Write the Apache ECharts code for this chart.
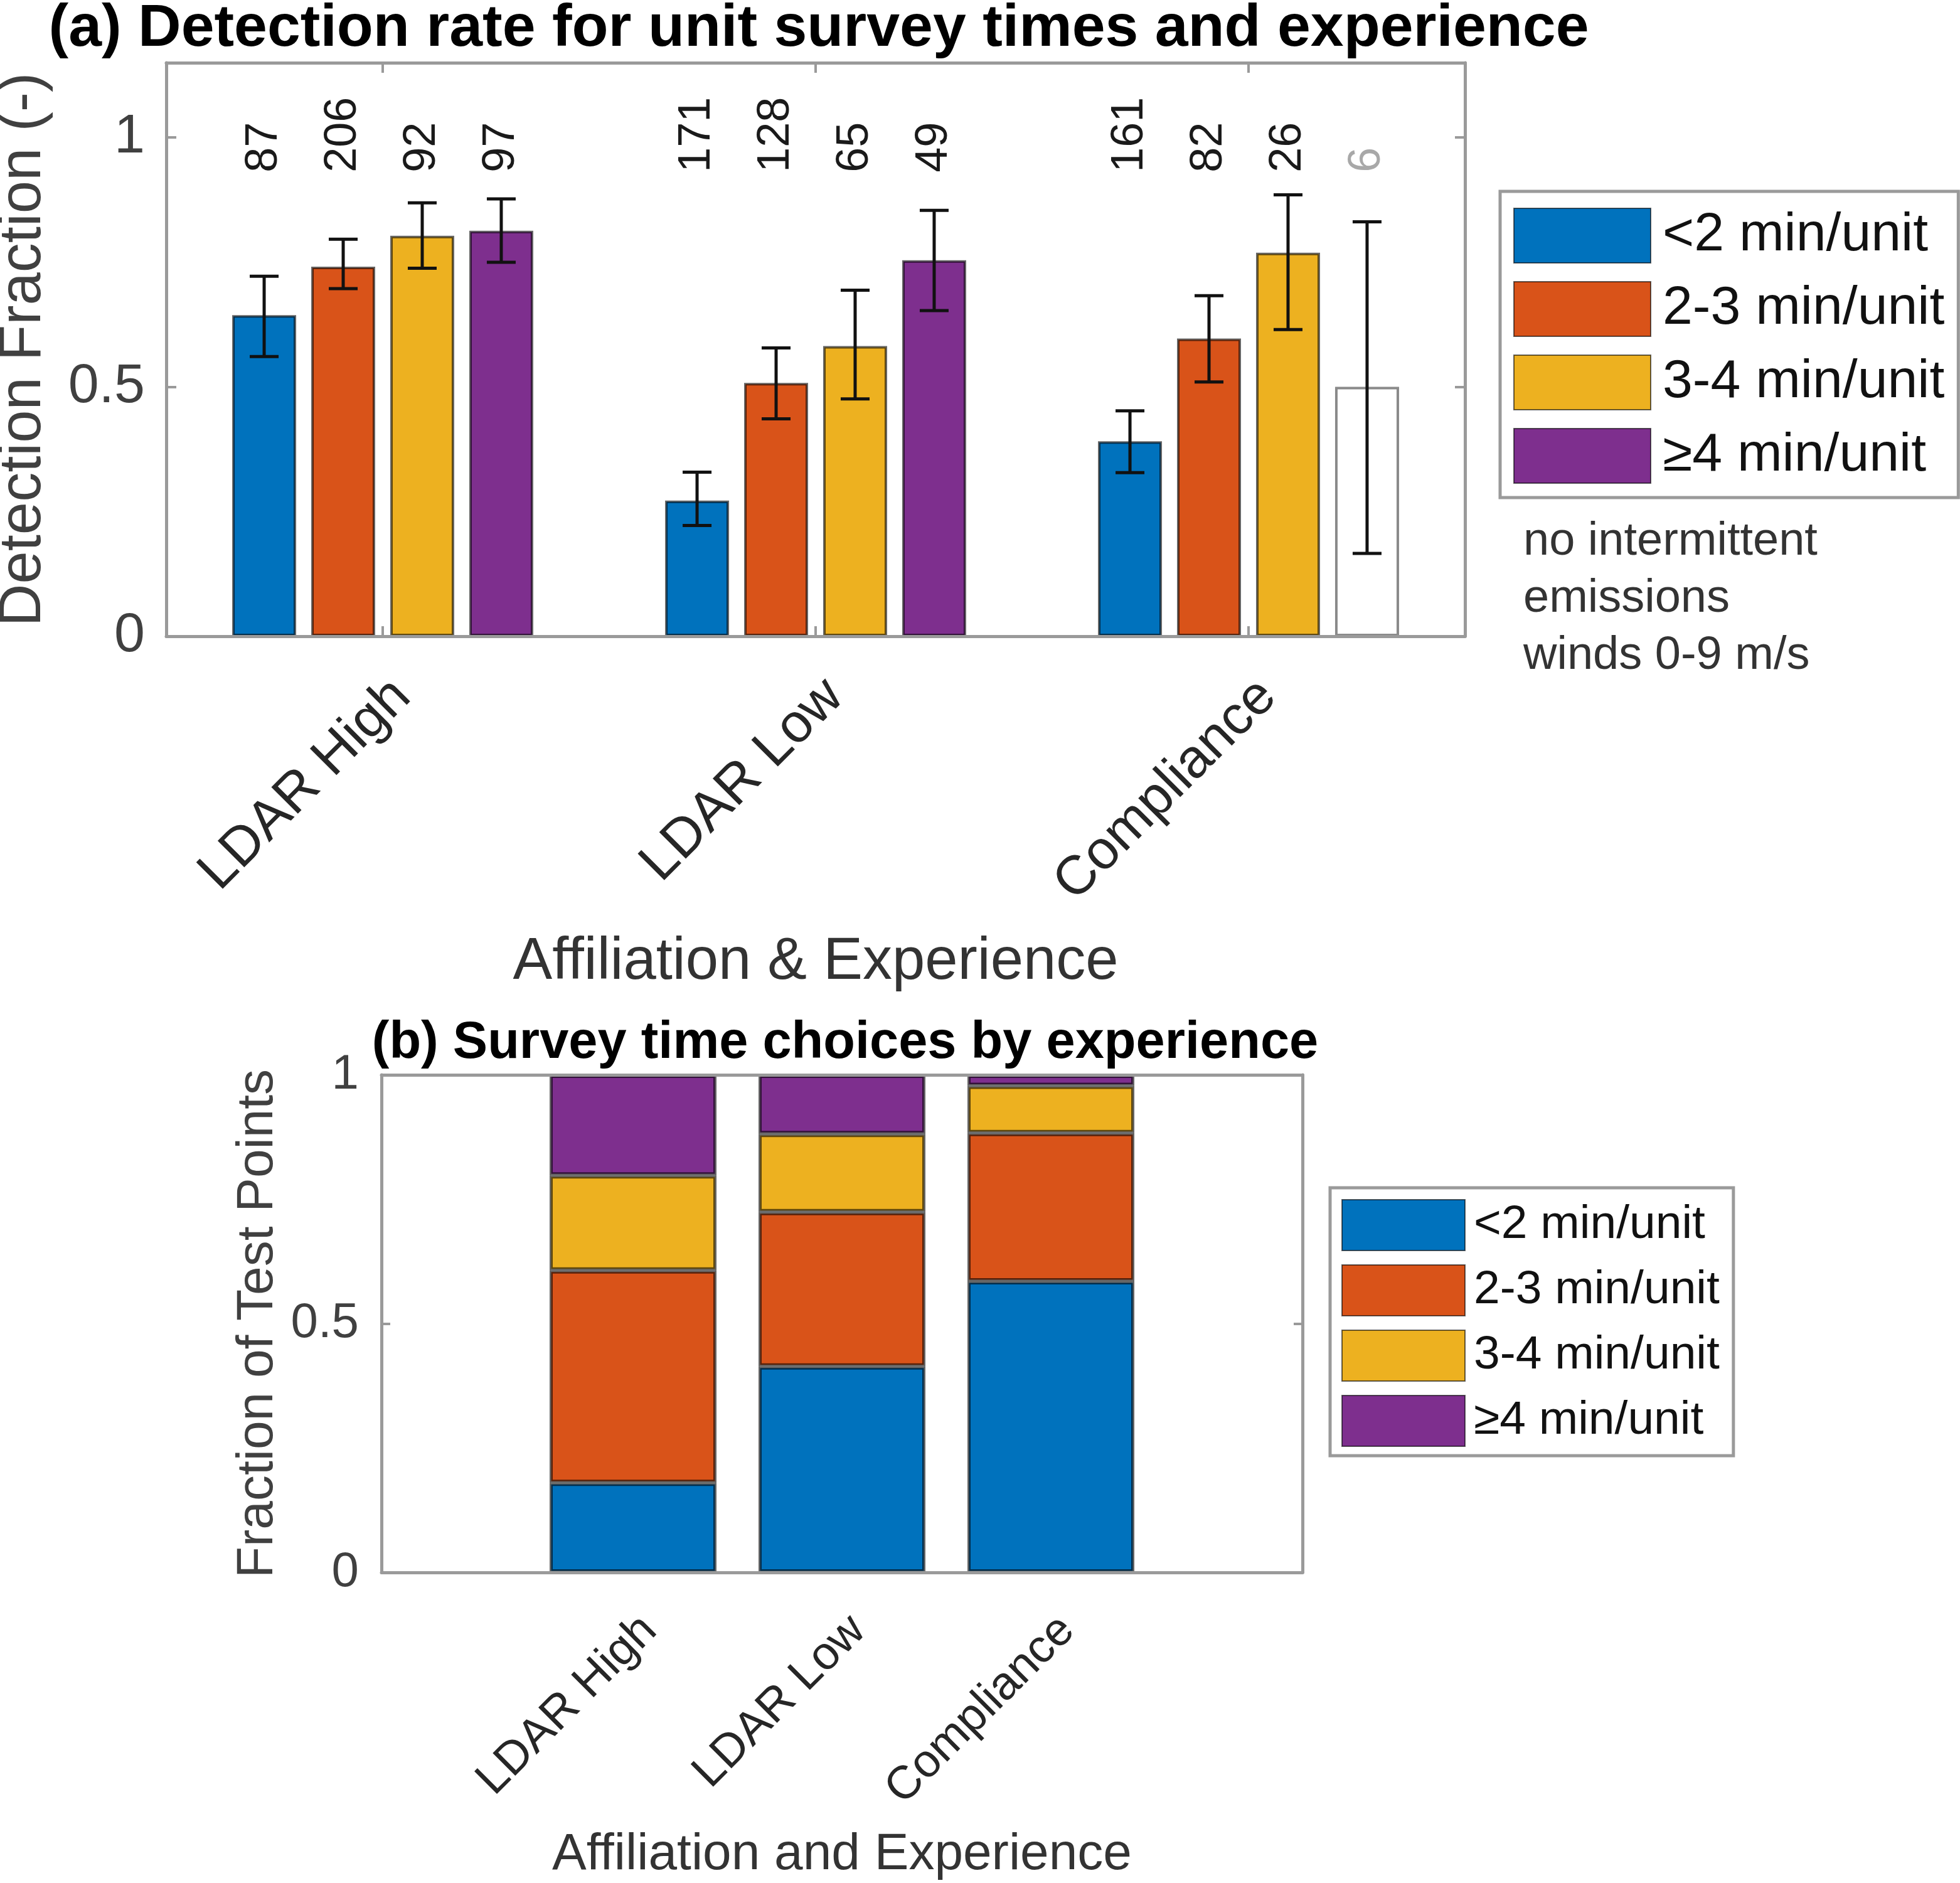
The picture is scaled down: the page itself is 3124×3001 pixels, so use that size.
<!DOCTYPE html>
<html>
<head>
<meta charset="utf-8">
<script src="https://cdn.jsdelivr.net/npm/echarts@6/dist/echarts.min.js"></script>
<style>
  html, body { margin: 0; padding: 0; background: #fff; }
  #chart { width: 3124px; height: 3001px; }
</style>
</head>
<body>
<div id="chart"></div>
<script>
// ---------------- data ----------------
const categories = ['LDAR High', 'LDAR Low', 'Compliance'];
const timeBins = ['<2 min/unit', '2-3 min/unit', '3-4 min/unit', '\u22654 min/unit'];
const yTickValues = [0, 0.5, 1];

// (a) detection fraction per survey-time bin (per category)
const rateLt2  = [0.644, 0.272, 0.391];
const rate2to3 = [0.741, 0.508, 0.597];
const rate3to4 = [0.803, 0.582, 0.769];
const rateGe4  = [0.813, 0.754, 0.500];

// (a) error bar bounds
const ciLowLt2   = [0.561, 0.222, 0.328];
const ciHighLt2  = [0.722, 0.329, 0.452];
const ciLow2to3  = [0.697, 0.436, 0.510];
const ciHigh2to3 = [0.796, 0.578, 0.683];
const ciLow3to4  = [0.738, 0.476, 0.615];
const ciHigh3to4 = [0.869, 0.694, 0.885];
const ciLowGe4   = [0.750, 0.653, 0.166];
const ciHighGe4  = [0.877, 0.854, 0.831];

// (a) number of test points
const countLt2  = [87, 171, 161];
const count2to3 = [206, 128, 82];
const count3to4 = [92, 65, 26];
const countGe4  = [97, 49, 6];

// (b) fraction of test points per bin
const shareLt2  = [0.180, 0.414, 0.585];
const share2to3 = [0.427, 0.310, 0.298];
const share3to4 = [0.191, 0.157, 0.095];
const shareGe4  = [0.202, 0.119, 0.022];

const noteLines = ['no intermittent', 'emissions', 'winds 0-9 m/s'];

// ---------------- styling ----------------
const FONT = "'Liberation Sans', Arial, Helvetica, sans-serif";
const colors = ['#0072BD', '#D95319', '#EDB120', '#7E2F8E'];
const AXIS_COLOR = '#9a9a9a';
const AXIS_W = 5;
const EDGE = 'rgba(0,0,0,0.6)';
const BAR_W = 102;
const BAR_GAP = 0.235;
const CAP = 23;
const COUNT_LABEL_Y = 0.93;
const LOW_N = 10;

const rates = [rateLt2, rate2to3, rate3to4, rateGe4];
const ciLow = [ciLowLt2, ciLow2to3, ciLow3to4, ciLowGe4];
const ciHigh = [ciHighLt2, ciHigh2to3, ciHigh3to4, ciHighGe4];
const counts = [countLt2, count2to3, count3to4, countGe4];
const shares = [shareLt2, share2to3, share3to4, shareGe4];

const chart = echarts.init(document.getElementById('chart'), null, { renderer: 'canvas' });

const lineStyle = { color: AXIS_COLOR, width: AXIS_W };
const tickStyle = { color: AXIS_COLOR, width: 4 };

const series = [];

// (a) grouped bars
rates.forEach((arr, b) => {
  series.push({
    type: 'bar', name: timeBins[b], xAxisIndex: 0, yAxisIndex: 0,
    barWidth: BAR_W, barGap: (BAR_GAP * 100) + '%',
    itemStyle: { color: colors[b], borderColor: EDGE, borderWidth: 4 },
    data: arr.map((v, c) => counts[b][c] < LOW_N
      ? { value: v, itemStyle: { color: '#ffffff', borderColor: '#8a8a8a', borderWidth: 4 } }
      : v),
    z: 2
  });
});

// (a) error bars and counts
const ciItems = [];
timeBins.forEach((bin, b) => categories.forEach((cat, c) => {
  ciItems.push([c, b, ciLow[b][c], ciHigh[b][c], counts[b][c]]);
}));
series.push({
  type: 'custom', xAxisIndex: 0, yAxisIndex: 0, z: 6,
  dimensions: ['cat', 'bin', 'lo', 'hi', 'n'],
  encode: { x: 0, y: [2, 3] },
  data: ciItems,
  renderItem: function (params, api) {
    const c = api.value(0), b = api.value(1);
    const off = (b - (timeBins.length - 1) / 2) * BAR_W * (1 + BAR_GAP);
    const lo = api.coord([c, api.value(2)]);
    const hi = api.coord([c, api.value(3)]);
    const x = lo[0] + off;
    const yl = api.coord([c, COUNT_LABEL_Y])[1];
    const n = api.value(4);
    const st = { stroke: '#111', lineWidth: 5 };
    return {
      type: 'group',
      children: [
        { type: 'line', shape: { x1: x, y1: lo[1], x2: x, y2: hi[1] }, style: st },
        { type: 'line', shape: { x1: x - CAP, y1: lo[1], x2: x + CAP, y2: lo[1] }, style: st },
        { type: 'line', shape: { x1: x - CAP, y1: hi[1], x2: x + CAP, y2: hi[1] }, style: st },
        { type: 'text', x: x, y: yl, rotation: Math.PI / 2,
          style: { text: String(n), fontSize: 72, fontFamily: FONT,
                   fill: n < LOW_N ? '#a8a8a8' : '#1a1a1a', align: 'left', verticalAlign: 'middle' } }
      ]
    };
  }
});

// (b) stacked bars (on the category axis of the inner grid)
shares.forEach((arr, b) => {
  series.push({
    type: 'bar', name: timeBins[b], xAxisIndex: 4, yAxisIndex: 4,
    stack: 'share', barWidth: 266,
    itemStyle: { color: colors[b], borderColor: EDGE, borderWidth: 5 },
    data: arr,
    z: 2
  });
});

const tickFormatter = function (v) {
  return yTickValues.some(t => Math.abs(t - v) < 1e-6) ? String(v) : '';
};

const gridBase = { containLabel: false, outerBoundsMode: 'none' };

const option = {
  backgroundColor: '#ffffff',
  animation: false,
  textStyle: { fontFamily: FONT },
  title: [
    { text: '(a) Detection rate for unit survey times and experience', left: 1300, top: -6,
      textAlign: 'center',
      textStyle: { fontSize: 95, fontWeight: 'bold', color: '#000', fontFamily: FONT } },
    { text: '(b) Survey time choices by experience', left: 1342, top: 1617,
      textAlign: 'center',
      textStyle: { fontSize: 83, fontWeight: 'bold', color: '#000', fontFamily: FONT } }
  ],
  grid: [
    Object.assign({ left: 265, top: 100, width: 2070, height: 914 }, gridBase),
    Object.assign({ left: 608, top: 1713, width: 1468, height: 793 }, gridBase),
    Object.assign({ left: 842.5, top: 1713, width: 999, height: 793 }, gridBase)
  ],
  legend: [
    { data: timeBins, orient: 'vertical', left: 2391, top: 305, icon: 'rect',
      itemWidth: 218, itemHeight: 87, itemGap: 28, padding: [26, 22, 22, 21],
      borderColor: AXIS_COLOR, borderWidth: 5, selectedMode: false, backgroundColor: '#fff',
      textStyle: { fontSize: 86, color: '#111', fontFamily: FONT, padding: [0, 0, 0, 14] } },
    { data: timeBins, orient: 'vertical', left: 2120, top: 1893, icon: 'rect',
      itemWidth: 196, itemHeight: 81, itemGap: 21, padding: [18, 22, 14, 18],
      borderColor: AXIS_COLOR, borderWidth: 5, selectedMode: false, backgroundColor: '#fff',
      textStyle: { fontSize: 75, color: '#111', fontFamily: FONT, padding: [0, 0, 0, 9] } }
  ],
  xAxis: [
    // (a) bottom
    { type: 'category', gridIndex: 0, data: categories, z: 10,
      axisLine: { show: true, onZero: false, lineStyle: lineStyle },
      axisTick: { show: true, inside: true, alignWithLabel: true, length: 16, lineStyle: tickStyle },
      axisLabel: { rotate: 45, fontSize: 87, color: '#262626', margin: 52,
                   align: 'right', verticalAlign: 'top', fontFamily: FONT },
      name: 'Affiliation & Experience', nameLocation: 'middle', nameGap: 473,
      nameTextStyle: { fontSize: 94, color: '#333', fontFamily: FONT } },
    // (a) top mirror
    { type: 'category', gridIndex: 0, data: categories, position: 'top', z: 10,
      axisLine: { show: true, onZero: false, lineStyle: lineStyle },
      axisTick: { show: true, inside: true, alignWithLabel: true, length: 16, lineStyle: tickStyle },
      axisLabel: { show: false } },
    // (b) frame bottom
    { type: 'value', gridIndex: 1, min: 0, max: 1, z: 10,
      splitLine: { show: false },
      axisLine: { show: true, onZero: false, lineStyle: lineStyle },
      axisTick: { show: false }, axisLabel: { show: false },
      name: 'Affiliation and Experience', nameLocation: 'middle', nameGap: 409,
      nameTextStyle: { fontSize: 82, color: '#333', fontFamily: FONT } },
    // (b) frame top
    { type: 'value', gridIndex: 1, min: 0, max: 1, position: 'top', z: 10,
      splitLine: { show: false },
      axisLine: { show: true, onZero: false, lineStyle: lineStyle },
      axisTick: { show: false }, axisLabel: { show: false } },
    // (b) bar categories
    { type: 'category', gridIndex: 2, data: categories, z: 10,
      axisLine: { show: false }, axisTick: { show: false },
      axisLabel: { rotate: 45, fontSize: 74, color: '#262626', margin: 55,
                   align: 'right', verticalAlign: 'top', fontFamily: FONT } }
  ],
  yAxis: [
    { type: 'value', gridIndex: 0, min: 0, max: 1.15, interval: 0.5, z: 10,
      splitLine: { show: false },
      axisLine: { show: true, onZero: false, lineStyle: lineStyle },
      axisTick: { show: true, inside: true, length: 16, lineStyle: tickStyle, customValues: yTickValues },
      axisLabel: { fontSize: 88, color: '#404040', margin: 34, formatter: tickFormatter,
                   customValues: yTickValues, fontFamily: FONT },
      name: 'Detection Fraction (-)', nameLocation: 'middle', nameGap: 180,
      nameTextStyle: { fontSize: 94, color: '#404040', fontFamily: FONT } },
    { type: 'value', gridIndex: 0, min: 0, max: 1.15, interval: 0.5, position: 'right', z: 10,
      splitLine: { show: false },
      axisLine: { show: true, onZero: false, lineStyle: lineStyle },
      axisTick: { show: true, inside: true, length: 16, lineStyle: tickStyle, customValues: yTickValues },
      axisLabel: { show: false } },
    { type: 'value', gridIndex: 1, min: 0, max: 1, interval: 0.5, z: 10,
      splitLine: { show: false },
      axisLine: { show: true, onZero: false, lineStyle: lineStyle },
      axisTick: { show: true, inside: true, length: 14, lineStyle: tickStyle },
      axisLabel: { fontSize: 78, color: '#404040', margin: 36, formatter: tickFormatter, fontFamily: FONT },
      name: 'Fraction of Test Points', nameLocation: 'middle', nameGap: 156,
      nameTextStyle: { fontSize: 82, color: '#404040', fontFamily: FONT } },
    { type: 'value', gridIndex: 1, min: 0, max: 1, interval: 0.5, position: 'right', z: 10,
      splitLine: { show: false },
      axisLine: { show: true, onZero: false, lineStyle: lineStyle },
      axisTick: { show: true, inside: true, length: 14, lineStyle: tickStyle },
      axisLabel: { show: false } },
    { type: 'value', gridIndex: 2, min: 0, max: 1, show: false }
  ],
  graphic: [
    { type: 'text', left: 2428, top: 818, z: 20,
      style: { text: noteLines.join('\n'), fontSize: 74, lineHeight: 91, fill: '#333', fontFamily: FONT } }
  ],
  series: series
};

chart.setOption(option);
</script>
</body>
</html>
